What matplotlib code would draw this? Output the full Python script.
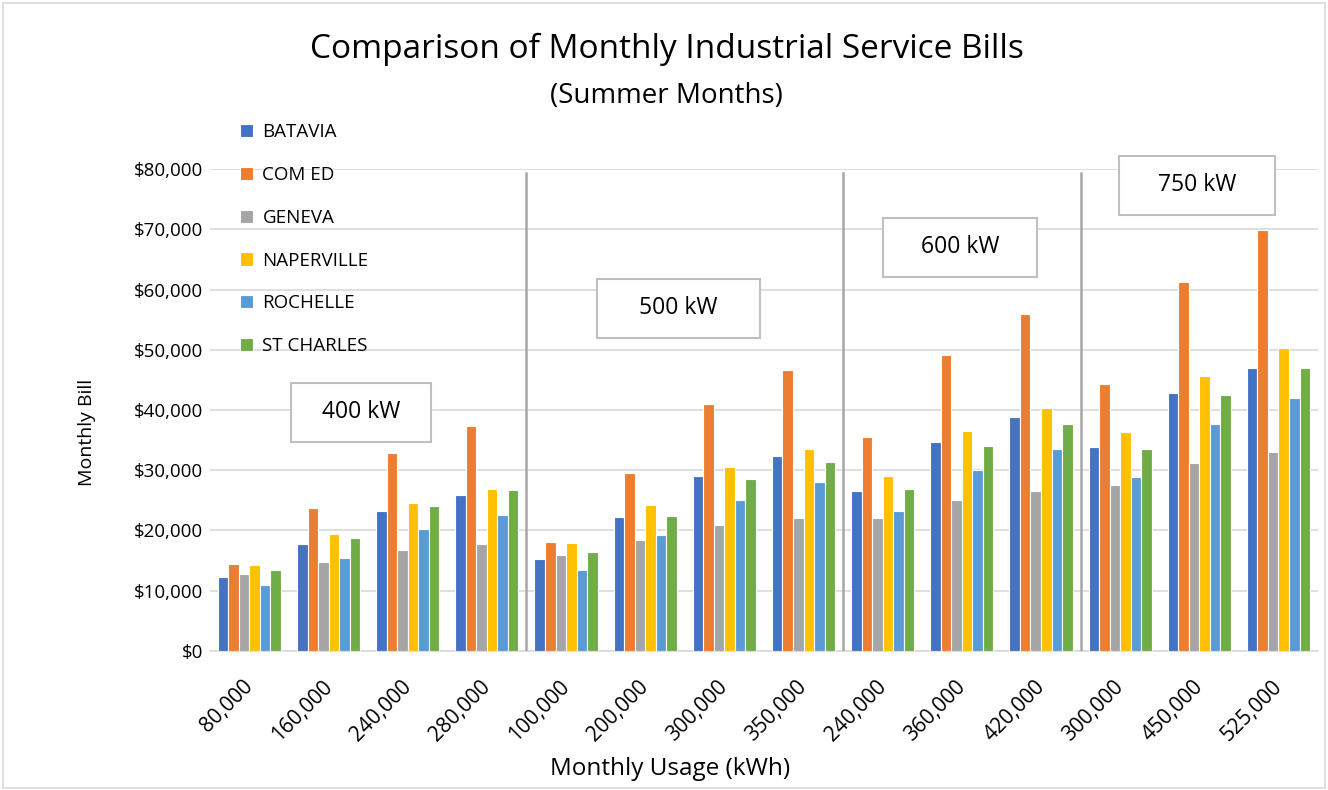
import numpy as np
import matplotlib.pyplot as plt
from matplotlib.patches import Rectangle

plt.rcParams['font.family'] = ['Open Sans', 'DejaVu Sans']

usage = ['80,000', '160,000', '240,000', '280,000',
         '100,000', '200,000', '300,000', '350,000',
         '240,000', '360,000', '420,000',
         '300,000', '450,000', '525,000']

batavia    = [12300, 17800, 23200, 25900, 15300, 22200, 29000, 32300, 26600, 34700, 38800, 33900, 42800, 47000]
com_ed     = [14500, 23700, 32800, 37400, 18100, 29600, 41000, 46700, 35500, 49200, 55900, 44300, 61300, 69900]
geneva     = [12700, 14700, 16800, 17800, 15900, 18400, 20900, 22100, 22000, 25000, 26600, 27500, 31200, 33100]
naperville = [14300, 19400, 24500, 26900, 18000, 24200, 30500, 33600, 29100, 36500, 40300, 36300, 45700, 50300]
rochelle   = [10900, 15500, 20200, 22500, 13500, 19300, 25100, 28000, 23200, 30100, 33600, 28900, 37600, 42000]
st_charles = [13500, 18800, 24100, 26700, 16400, 22400, 28500, 31400, 26900, 34100, 37700, 33500, 42500, 47000]

series = [('BATAVIA', batavia, '#4472C4'),
          ('COM ED', com_ed, '#ED7D31'),
          ('GENEVA', geneva, '#A5A5A5'),
          ('NAPERVILLE', naperville, '#FFC000'),
          ('ROCHELLE', rochelle, '#5B9BD5'),
          ('ST CHARLES', st_charles, '#70AD47')]

# demand level labels: text, centre (group units, $)
level_txt = ['400 kW', '500 kW', '600 kW', '750 kW']
level_x = [1.41, 5.42, 8.98, 11.97]
level_y = [39600, 56900, 67000, 77300]
box_w = [1.77, 2.06, 1.95, 1.96]
box_h = 9800
separators = [3.5, 7.5, 10.5]

fig = plt.figure(figsize=(13.28, 7.9), dpi=100)
ax = fig.add_axes([0.158, 0.176, 0.8345, 0.610])

x = np.arange(len(usage))
w = 0.133
for i, (name, vals, col) in enumerate(series):
    ax.bar(x + (i - 2.5) * w, vals, w, color=col, edgecolor='white',
           linewidth=0.8, label=name, zorder=3)

for s in separators:
    ax.plot([s, s], [0, 79300], color='#a6a6a6', lw=1.8, zorder=4)

for txt, cx, cy, bw in zip(level_txt, level_x, level_y, box_w):
    ax.add_patch(Rectangle((cx - bw / 2, cy - box_h / 2), bw, box_h, fc='white',
                           ec='#bfbfbf', lw=1.5, zorder=5, clip_on=False))
    ax.text(cx, cy, txt, ha='center', va='center', fontsize=16.5, zorder=6)

ax.set_xlim(-0.5, 13.5)
ax.set_ylim(0, 80000)
ax.set_yticks(np.arange(0, 80001, 10000))
ax.set_yticklabels(['${:,}'.format(v) for v in range(0, 80001, 10000)], fontsize=13.5)
# labels sit a little left of the group centre (ticks are hidden)
ax.set_xticks(x - 0.09)
ax.set_xticklabels(usage, rotation=45, ha='right', rotation_mode='anchor', fontsize=15)
ax.tick_params(axis='y', length=0, pad=5)
ax.tick_params(axis='x', length=0, pad=18)
ax.grid(axis='y', color='#d9d9d9', lw=1.2, zorder=0)
for sp in ['top', 'right', 'left']:
    ax.spines[sp].set_visible(False)
ax.spines['bottom'].set_color('#d9d9d9')
ax.spines['bottom'].set_linewidth(1.2)

ax.set_ylabel('Monthly Bill', fontsize=14)
ax.yaxis.set_label_coords(-0.103, 0.453)
ax.set_xlabel('Monthly Usage (kWh)', fontsize=17.5)
ax.xaxis.set_label_coords(0.415, -0.22)

fig.text(0.502, 0.937, 'Comparison of Monthly Industrial Service Bills',
         ha='center', va='center', fontsize=24)
fig.text(0.502, 0.879, '(Summer Months)', ha='center', va='center', fontsize=20)

ax.legend(loc='upper left', bbox_to_anchor=(0.012, 1.13), frameon=False,
          fontsize=13.5, handlelength=0.7, handleheight=0.7, handletextpad=0.5,
          labelspacing=1.32)

fig.add_artist(Rectangle((0.002, 0.002), 0.996, 0.994, transform=fig.transFigure,
                         fill=False, ec='#d9d9d9', lw=1.2))

fig.savefig('out.png', dpi=100)
